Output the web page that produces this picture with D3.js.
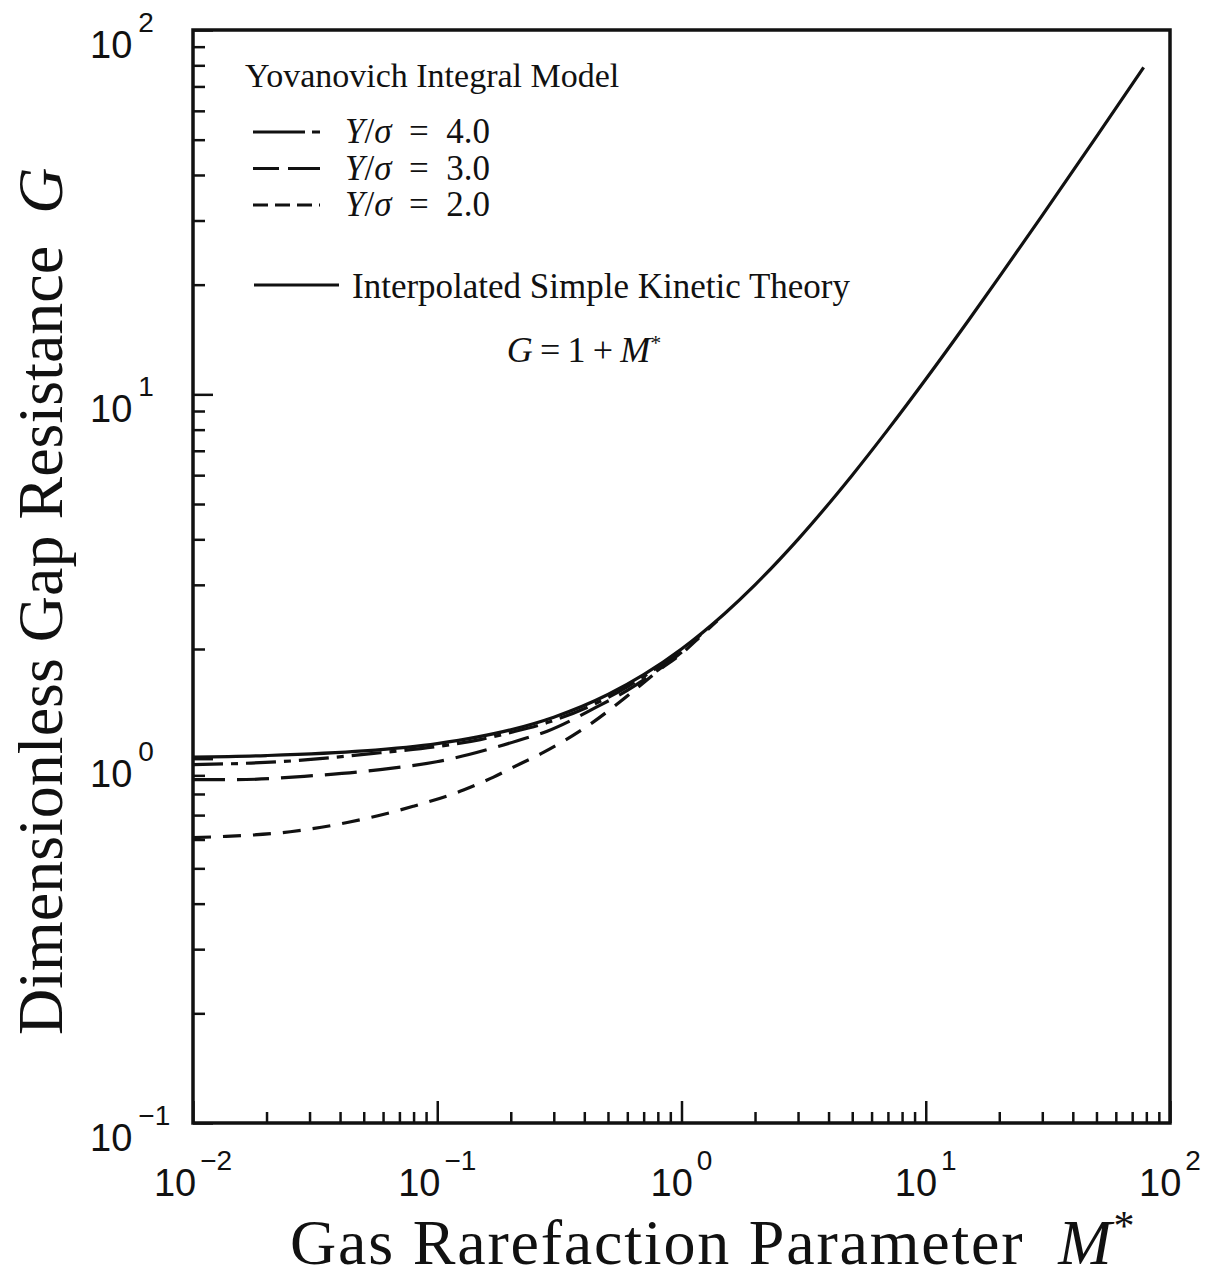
<!DOCTYPE html>
<html lang="en">
<head>
    <meta charset="UTF-8">
    <title>Gap resistance</title>
    <script src="https://d3js.org/d3.v7.min.js"></script>
    <style>
        body { margin: 0; background: #fff; }
        text.tick { font-family: 'Liberation Sans', sans-serif; font-size: 38px; fill: #111; }
        text.serif { font-family: 'Liberation Serif', serif; fill: #111; }
    </style>
</head>
<body>
<svg height="1278" width="1212"></svg>
<script>
    // values
    const mKinetic = [0.01, 0.02, 0.05, 0.1, 0.2, 0.3, 0.5, 0.7, 1, 1.5, 2, 3, 5, 7, 10, 15, 20, 30, 50, 78];
    const gKinetic = [1.01, 1.02, 1.05, 1.1, 1.2, 1.3, 1.5, 1.7, 2, 2.5, 3, 4, 6, 8, 11, 16, 21, 31, 51, 79];

    const m40 = [0.01, 0.0227, 0.0584, 0.1, 0.15, 0.2, 0.282, 0.453, 0.6, 0.8, 1.0];
    const g40 = [0.963, 0.981, 1.038, 1.08, 1.128, 1.18, 1.256, 1.425, 1.575, 1.785, 1.99];

    const m30 = [0.01, 0.0151, 0.031, 0.0584, 0.11, 0.176, 0.213, 0.282, 0.444, 0.6, 0.8, 1.0, 1.2];
    const g30 = [0.876, 0.876, 0.898, 0.933, 0.994, 1.078, 1.12, 1.19, 1.38, 1.54, 1.75, 1.96, 2.19];

    const m20 = [0.01, 0.0129, 0.025, 0.0428, 0.0797, 0.128, 0.17, 0.205, 0.272, 0.432, 0.562, 0.661, 0.8, 0.99, 1.2, 1.4];
    const g20 = [0.607, 0.611, 0.63, 0.668, 0.74, 0.82, 0.89, 0.948, 1.04, 1.256, 1.435, 1.567, 1.74, 1.93, 2.17, 2.39];

    const xMajor = [1e-2, 1e-1, 1, 10, 100];
    const xExp = ["\u22122", "\u22121", "0", "1", "2"];
    const yMajor = [1e-1, 1, 10, 100];
    const yExp = ["\u22121", "0", "1", "2"];

    const legendNames = ["4.0", "3.0", "2.0"];

    const svg = d3.select("svg");
    const x = d3.scaleLog().domain([1e-2, 1e2]).range([193, 1170]);
    const y = d3.scaleLog().domain([1e-1, 1e2]).range([1123, 30]);

    const minorX = x.ticks().filter(v => !xMajor.some(m => Math.abs(m - v) / m < 1e-6));
    const minorY = y.ticks().filter(v => !yMajor.some(m => Math.abs(m - v) / m < 1e-6));

    // ticks pointing inward, bottom and left only
    function tickAxis(axis, vals, size, t) {
        const g = svg.append("g").attr("transform", t)
            .call(axis.tickValues(vals).tickSize(size).tickFormat(""));
        g.select(".domain").remove();
        g.selectAll("line").attr("stroke", "#111").attr("stroke-width", 2.5);
    }
    tickAxis(d3.axisTop(x), minorX, 11, "translate(0,1123)");
    tickAxis(d3.axisTop(x), xMajor, 22, "translate(0,1123)");
    tickAxis(d3.axisRight(y), minorY, 12, "translate(193,0)");
    tickAxis(d3.axisRight(y), yMajor, 20, "translate(193,0)");

    svg.append("rect").attr("x", 193).attr("y", 30)
        .attr("width", 1170 - 193).attr("height", 1123 - 30)
        .attr("fill", "none").attr("stroke", "#111").attr("stroke-width", 3.5);

    // tick labels
    xMajor.forEach((v, i) => {
        const t = svg.append("text").attr("class", "tick")
            .attr("x", x(v)).attr("y", 1196).attr("text-anchor", "middle");
        t.append("tspan").text("10");
        t.append("tspan").attr("dx", 4).attr("dy", -26).style("font-size", "28px").text(xExp[i]);
    });
    yMajor.forEach((v, i) => {
        const t = svg.append("text").attr("class", "tick")
            .attr("x", 90).attr("y", y(v) + 28);
        t.append("tspan").text("10");
        t.append("tspan").attr("dx", 6).attr("dy", -26).style("font-size", "28px").text(yExp[i]);
    });

    // curves
    const line = d3.line().x(d => x(d[0])).y(d => y(d[1])).curve(d3.curveMonotoneX);
    const series = [
        {m: mKinetic, g: gKinetic, dash: null},
        {m: m40, g: g40, dash: "30,8,7,8"},
        {m: m30, g: g30, dash: "32,12"},
        {m: m20, g: g20, dash: "18,12"}
    ];
    series.forEach(s => {
        svg.append("path").datum(d3.zip(s.m, s.g))
            .attr("d", line).attr("fill", "none")
            .attr("stroke", "#111").attr("stroke-width", 3.2)
            .attr("stroke-dasharray", s.dash);
    });

    // legend
    svg.append("text").attr("class", "serif").attr("x", 245).attr("y", 87)
        .style("font-size", "34px").text("Yovanovich Integral Model");
    const legendDash = ["52,7,8,7", "26,9,40,0", "15,7"];
    legendNames.forEach((n, i) => {
        const ly = 132 + i * 36.5;
        svg.append("line").attr("x1", 253).attr("x2", 320).attr("y1", ly).attr("y2", ly)
            .attr("stroke", "#111").attr("stroke-width", 3).attr("stroke-dasharray", legendDash[i]);
        const t = svg.append("text").attr("class", "serif").attr("x", 345).attr("y", ly + 11)
            .style("font-size", "35px");
        t.append("tspan").style("font-style", "italic").text("Y");
        t.append("tspan").text("/");
        t.append("tspan").style("font-style", "italic").text("\u03c3");
        t.append("tspan").text("\u2002=\u2002" + n);
    });
    svg.append("line").attr("x1", 254).attr("x2", 339).attr("y1", 285).attr("y2", 285)
        .attr("stroke", "#111").attr("stroke-width", 3);
    svg.append("text").attr("class", "serif").attr("x", 352).attr("y", 298)
        .style("font-size", "35px").text("Interpolated Simple Kinetic Theory");
    const f = svg.append("text").attr("class", "serif").attr("x", 584).attr("y", 362)
        .attr("text-anchor", "middle").style("font-size", "36px");
    f.append("tspan").style("font-style", "italic").text("G");
    f.append("tspan").text("\u2009=\u20091\u2009+\u2009");
    f.append("tspan").style("font-style", "italic").text("M");
    f.append("tspan").attr("dy", -12).style("font-size", "22px").text("*");

    // axis titles
    const xt = svg.append("text").attr("class", "serif").attr("x", 290).attr("y", 1264)
        .style("font-size", "64px").style("letter-spacing", "1.8px");
    xt.append("tspan").text("Gas Rarefaction Parameter\u2002");
    xt.append("tspan").style("font-style", "italic").text("M");
    xt.append("tspan").attr("dy", -24).style("font-size", "42px").text("*");

    const yt = svg.append("text").attr("class", "serif")
        .attr("transform", "translate(62,1035) rotate(-90)")
        .style("font-size", "64px");
    yt.append("tspan").text("Dimensionless Gap Resistance\u2002");
    yt.append("tspan").style("font-style", "italic").text("G");
</script>
</body>
</html>
